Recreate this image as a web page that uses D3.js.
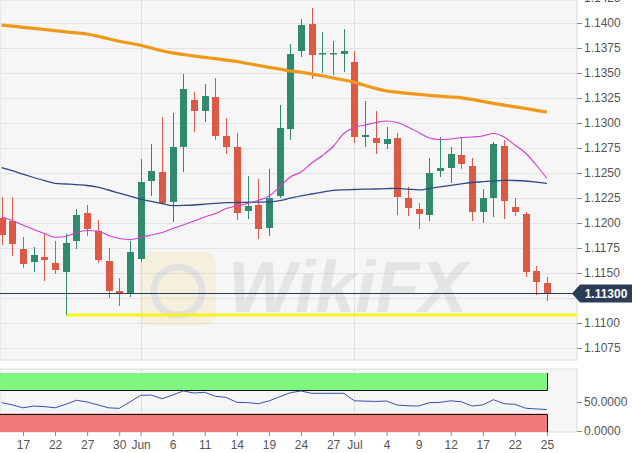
<!DOCTYPE html>
<html>
<head>
<meta charset="utf-8">
<script src="https://cdn.jsdelivr.net/npm/d3@7"></script>
<style>
body { margin: 0; background: #fff; }
svg text { font-family: "Liberation Sans", Arial, sans-serif; }
</style>
</head>
<body>
<svg id="chart" width="632" height="453"></svg>
<script>
// EUR/USD daily, mid May - 25 Jul
var dates = ["2019-05-15","2019-05-16","2019-05-17","2019-05-20","2019-05-21","2019-05-22","2019-05-23","2019-05-24","2019-05-27","2019-05-28","2019-05-29","2019-05-30","2019-05-31",
  "2019-06-03","2019-06-04","2019-06-05","2019-06-06","2019-06-07","2019-06-10","2019-06-11","2019-06-12","2019-06-13","2019-06-14","2019-06-17","2019-06-18","2019-06-19","2019-06-20","2019-06-21","2019-06-24","2019-06-25","2019-06-26","2019-06-27","2019-06-28",
  "2019-07-01","2019-07-02","2019-07-03","2019-07-04","2019-07-05","2019-07-08","2019-07-09","2019-07-10","2019-07-11","2019-07-12","2019-07-15","2019-07-16","2019-07-17","2019-07-18","2019-07-19","2019-07-22","2019-07-23","2019-07-24","2019-07-25"];

var open  = [1.1205,1.1202,1.1174,1.1161,1.1166,1.1160,1.1151,1.1182,1.1210,1.1192,1.1162,1.1132,1.1129,1.1164,1.1242,1.1251,1.1221,1.1276,1.1323,1.1312,1.1326,1.1287,1.1276,1.1212,1.1218,1.1195,1.1227,1.1294,1.1372,1.1399,1.1369,1.1369,1.1369,1.1361,1.1286,1.1285,1.1279,1.1285,1.1225,1.1214,1.1208,1.1252,1.1255,1.1268,1.1257,1.1211,1.1225,1.1277,1.1216,1.1209,1.1152,1.1140];
var high  = [1.1226,1.1226,1.1186,1.1176,1.1189,1.1182,1.1189,1.1214,1.1218,1.1203,1.1175,1.1145,1.1182,1.1264,1.1279,1.1306,1.1310,1.1349,1.1331,1.1339,1.1345,1.1305,1.1290,1.1247,1.1244,1.1254,1.1318,1.1379,1.1404,1.1415,1.1391,1.1382,1.1394,1.1372,1.1322,1.1312,1.1296,1.1290,1.1236,1.1220,1.1265,1.1286,1.1276,1.1286,1.1265,1.1234,1.1281,1.1283,1.1225,1.1211,1.1157,1.1146];
var low   = [1.1178,1.1167,1.1155,1.1151,1.1142,1.1149,1.1108,1.1174,1.1187,1.1160,1.1125,1.1117,1.1126,1.1161,1.1227,1.1220,1.1201,1.1251,1.1291,1.1301,1.1283,1.1269,1.1203,1.1204,1.1184,1.1187,1.1225,1.1283,1.1366,1.1344,1.1350,1.1348,1.1351,1.1280,1.1276,1.1269,1.1274,1.1208,1.1207,1.1194,1.1202,1.1246,1.1240,1.1254,1.1202,1.1200,1.1206,1.1204,1.1207,1.1146,1.1128,1.1122];
var close = [1.1188,1.1179,1.1159,1.1168,1.1163,1.1153,1.1180,1.1208,1.1194,1.1163,1.1132,1.1130,1.1171,1.1241,1.1252,1.1220,1.1276,1.1334,1.1312,1.1327,1.1287,1.1276,1.1210,1.1217,1.1194,1.1225,1.1295,1.1369,1.1398,1.1368,1.1370,1.1370,1.1372,1.1286,1.1288,1.1280,1.1284,1.1226,1.1215,1.1209,1.1250,1.1255,1.1269,1.1259,1.1211,1.1225,1.1279,1.1222,1.1211,1.1151,1.1141,1.1130];

var sma20  = [1.1206,1.12025,1.1198,1.11935,1.11895,1.11857,1.11865,1.11905,1.11925,1.1192,1.11875,1.11845,1.11835,1.11855,1.1188,1.11905,1.11945,1.1198,1.1202,1.1206,1.12095,1.12145,1.1217,1.12195,1.12225,1.1227,1.1236,1.1246,1.1251,1.126,1.12675,1.12765,1.12895,1.12955,1.1298,1.13005,1.1302,1.13005,1.1296,1.12905,1.1285,1.12835,1.1284,1.12855,1.1286,1.1287,1.12895,1.1286,1.1278,1.127,1.1258,1.12445];
var sma100 = [1.12555,1.12523,1.12488,1.12455,1.12424,1.12397,1.1239,1.12383,1.12375,1.12358,1.1233,1.12298,1.12268,1.12238,1.12216,1.12195,1.12174,1.12176,1.1218,1.12188,1.12196,1.12203,1.12205,1.12207,1.12209,1.12211,1.12224,1.12248,1.12272,1.1229,1.12308,1.12327,1.12332,1.12335,1.12338,1.1234,1.12344,1.12347,1.12339,1.12331,1.12345,1.12362,1.12377,1.12391,1.12405,1.12413,1.12422,1.12426,1.12425,1.1242,1.12408,1.12397];
var sma200 = [1.13978,1.13968,1.13957,1.13946,1.13935,1.13924,1.13912,1.13902,1.1389,1.13867,1.13842,1.13818,1.13797,1.13778,1.1375,1.13723,1.13701,1.13685,1.1367,1.13656,1.13643,1.13628,1.13615,1.13595,1.13576,1.13557,1.1354,1.1352,1.13508,1.1349,1.13472,1.1345,1.1343,1.13408,1.13375,1.13345,1.1332,1.13308,1.13296,1.13286,1.13277,1.13268,1.1326,1.13251,1.13236,1.13216,1.13197,1.13179,1.13162,1.13145,1.13126,1.1311];

var rsi = [49,45,40,43,42,40,46,53,50,45,40,39,50,61.5,62,55.7,62,69,65.5,66.7,59.8,58,49.4,49,47,51.8,59,66,69,65,65,65,65,52,51.5,51,51.6,44.8,43.5,43,48.8,49.4,52,50.4,43,45,54,47,46,39.4,38,37];

var priceTicks = [1.1075,1.1100,1.1125,1.1150,1.1175,1.1200,1.1225,1.1250,1.1275,1.1300,1.1325,1.1350,1.1375,1.1400,1.1425];
var rsiTicks = [0, 50];
var tickDates  = ["2019-05-17","2019-05-22","2019-05-27","2019-05-30","2019-06-03","2019-06-06","2019-06-11","2019-06-14","2019-06-19","2019-06-24","2019-06-27","2019-07-01","2019-07-04","2019-07-09","2019-07-12","2019-07-17","2019-07-22","2019-07-25"];
var tickLabels = ["17","22","27","30","Jun","6","11","14","19","24","27","Jul","4","9","12","17","22","25"];
var monthStarts = ["2019-06-03","2019-07-01"];

var lastPrice = 1.1130;
var support = 1.1108;

var plotW = 577, mainH = 360, subTop = 369, subBottom = 432;
var green = "#2f8a6f", red = "#dc5a45";

var svg = d3.select("#chart");

var x = d3.scalePoint().domain(dates).range([1.6, 546.9]);
var y = d3.scaleLinear().domain([1.1063, 1.1423]).range([mainH, 0]);
var yr = d3.scaleLinear().domain([0, 100]).range([431, 373]);

var defs = svg.append("defs");
defs.append("clipPath").attr("id", "clipMain")
  .append("rect").attr("x", 0).attr("y", 0).attr("width", plotW).attr("height", mainH);
defs.append("clipPath").attr("id", "clipSub")
  .append("rect").attr("x", 0).attr("y", subTop).attr("width", plotW).attr("height", subBottom - subTop);

// panel backgrounds
svg.append("rect").attr("x", 0).attr("y", 0).attr("width", plotW).attr("height", mainH)
  .attr("fill", "#f6f6f6").attr("stroke", "#dcdcdc");
svg.append("rect").attr("x", 0).attr("y", subTop).attr("width", plotW).attr("height", subBottom - subTop)
  .attr("fill", "#f6f6f6").attr("stroke", "#dcdcdc");

var main = svg.append("g").attr("clip-path", "url(#clipMain)");
var sub = svg.append("g").attr("clip-path", "url(#clipSub)");

// grid
main.selectAll(".hg").data(priceTicks).enter().append("line")
  .attr("x1", 0).attr("x2", plotW)
  .attr("y1", d => Math.round(y(d)) + 0.5).attr("y2", d => Math.round(y(d)) + 0.5)
  .attr("stroke", "#e3e3e3");
main.selectAll(".vg").data(monthStarts).enter().append("line")
  .attr("x1", d => Math.round(x(d)) + 0.5).attr("x2", d => Math.round(x(d)) + 0.5)
  .attr("y1", 0).attr("y2", mainH).attr("stroke", "#e0e0e0");
sub.selectAll(".vg").data(monthStarts).enter().append("line")
  .attr("x1", d => Math.round(x(d)) + 0.5).attr("x2", d => Math.round(x(d)) + 0.5)
  .attr("y1", subTop).attr("y2", subBottom).attr("stroke", "#e0e0e0");

// watermark
var wm = main.append("g").attr("opacity", 0.12);
wm.append("rect").attr("x", 140).attr("y", 252).attr("width", 76).attr("height", 74).attr("rx", 12)
  .attr("fill", "#f0c430");
wm.append("circle").attr("cx", 178).attr("cy", 291).attr("r", 24).attr("fill", "none")
  .attr("stroke", "#555").attr("stroke-width", 7);
wm.append("text").attr("x", 228).attr("y", 312).attr("font-size", 72).attr("font-weight", "bold")
  .attr("font-style", "italic").attr("fill", "#666")
  .text("WikiFX");

// support line
main.append("line")
  .attr("x1", x(dates[6])).attr("x2", plotW)
  .attr("y1", y(support)).attr("y2", y(support))
  .attr("stroke", "#f5f21c").attr("stroke-width", 3);

// candles
var idx = d3.range(dates.length);
var candles = main.selectAll(".candle").data(idx).enter().append("g");
candles.append("line")
  .attr("x1", i => Math.round(x(dates[i])) + 0.5).attr("x2", i => Math.round(x(dates[i])) + 0.5)
  .attr("y1", i => y(high[i])).attr("y2", i => y(low[i]))
  .attr("stroke", i => close[i] >= open[i] ? green : red);
candles.append("rect")
  .attr("x", i => Math.round(x(dates[i])) - 3)
  .attr("width", 7)
  .attr("y", i => y(Math.max(open[i], close[i])))
  .attr("height", i => Math.max(1.5, Math.abs(y(open[i]) - y(close[i]))))
  .attr("fill", i => close[i] >= open[i] ? green : red);

// moving averages
var line = function (arr) {
  return d3.line().x((d, i) => x(dates[i])).y(d => y(d)).curve(d3.curveMonotoneX)(arr);
};
main.append("path").attr("d", line(sma100)).attr("fill", "none").attr("stroke", "#2c4a86").attr("stroke-width", 1.3);
main.append("path").attr("d", line(sma20)).attr("fill", "none").attr("stroke", "#d23cd2").attr("stroke-width", 1.1);
main.append("path").attr("d", line(sma200)).attr("fill", "none").attr("stroke", "#f0981a").attr("stroke-width", 3.2);

// last price line
main.append("line").attr("x1", 0).attr("x2", plotW)
  .attr("y1", Math.round(y(lastPrice)) + 0.5).attr("y2", Math.round(y(lastPrice)) + 0.5)
  .attr("stroke", "#2b3d56");

// RSI zones
var xEnd = x(dates[dates.length - 1]);
sub.append("rect").attr("x", 0).attr("y", yr(100)).attr("width", xEnd).attr("height", yr(70) - yr(100))
  .attr("fill", "#7df77d");
sub.append("rect").attr("x", 0).attr("y", yr(30)).attr("width", xEnd).attr("height", yr(0) - yr(30) + 1)
  .attr("fill", "#f07a7a");
sub.append("path")
  .attr("d", "M0," + (Math.round(yr(70)) + 0.5) + "H" + (Math.round(xEnd) + 0.5) + "V" + yr(100))
  .attr("fill", "none").attr("stroke", "#111");
sub.append("path")
  .attr("d", "M0," + (Math.round(yr(30)) + 0.5) + "H" + (Math.round(xEnd) + 0.5) + "V" + subBottom)
  .attr("fill", "none").attr("stroke", "#111");
sub.append("path")
  .attr("d", d3.line().x((d, i) => x(dates[i])).y(d => yr(d))(rsi))
  .attr("fill", "none").attr("stroke", "#3b4fb3").attr("stroke-width", 1);

// axes
function styleAxis(g) {
  g.select(".domain").remove();
  g.selectAll(".tick line").attr("stroke", "#8a8a8a");
  g.selectAll(".tick text").attr("fill", "#555").attr("font-size", 12);
}
svg.append("g").attr("transform", "translate(" + plotW + ",0)")
  .call(d3.axisRight(y).tickValues(priceTicks).tickFormat(d3.format(".4f")).tickSize(5).tickPadding(2))
  .call(styleAxis);
svg.append("g").attr("transform", "translate(" + plotW + ",0)")
  .call(d3.axisRight(yr).tickValues(rsiTicks).tickFormat(d3.format(".4f")).tickSize(5).tickPadding(2))
  .call(styleAxis);
svg.append("g").attr("transform", "translate(0," + subBottom + ")")
  .call(d3.axisBottom(x).tickValues(tickDates).tickFormat((d, i) => tickLabels[i]).tickSize(4).tickPadding(4))
  .call(styleAxis);

// last price tag
var ty = Math.round(y(lastPrice)) + 0.5;
svg.append("path")
  .attr("d", "M572," + ty + "L580," + (ty - 9) + "H632V" + (ty + 9) + "H580Z")
  .attr("fill", "#2b3d56");
svg.append("text").attr("x", 606).attr("y", ty + 4.5).attr("text-anchor", "middle")
  .attr("fill", "#fff").attr("font-size", 12).attr("font-weight", "bold")
  .text(d3.format(".5f")(lastPrice));
</script>
</body>
</html>
